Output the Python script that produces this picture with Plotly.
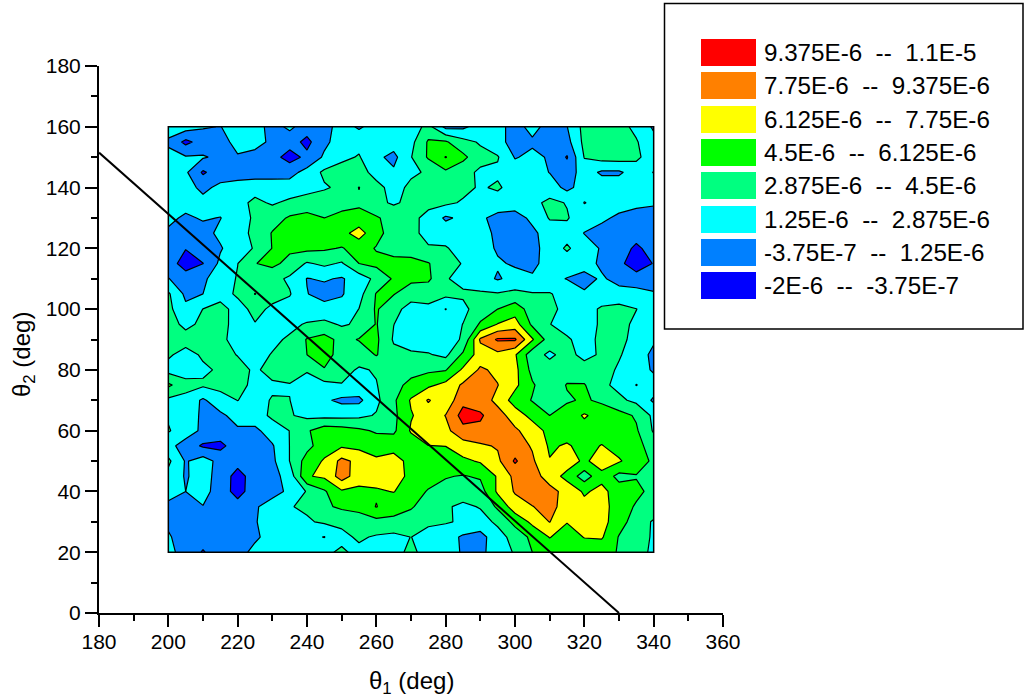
import plotly.graph_objects as go

theta1 = list(range(200, 345, 5))
theta2 = list(range(20, 165, 5))

# values in units of 1E-6, one list per theta2 row
z_160 = [2.0,2.0,1.4,1.2,2.0,2.0,0.6,1.6,0.4,0.6,2.0,1.0,2.0,2.0,2.0,3.4,0.8,0.9,2.0,1.8,0.6,1.8,0.6,1.2,3.4,3.7,3.4,2.5,1.0]
z_155 = [1.0,-0.8,0.3,0.6,1.8,2.0,0.8,0.3,-0.8,0.9,2.0,2.4,1.3,2.0,2.4,4.7,4.7,3.4,2.7,1.8,0.6,1.0,0.5,0.7,3.3,3.8,3.6,3.0,1.8]
z_150 = [1.7,1.4,1.4,0.9,1.1,0.5,0.2,-1.0,0.0,1.5,2.5,3.0,1.6,0.8,2.8,4.7,6.2,4.9,3.4,3.0,1.15,1.6,1.1,-0.5,2.95,3.5,3.6,3.2,2.0]
z_145 = [2.0,1.5,-0.6,0.5,0.4,0.4,0.4,0.7,1.8,3.2,3.6,3.3,2.5,1.5,2.7,3.0,4.2,3.4,2.6,2.6,2.0,2.0,1.2,0.4,2.0,1.0,1.0,2.0,1.2]
z_140 = [2.0,1.8,0.9,1.6,2.0,2.3,2.3,2.0,2.3,2.7,3.2,4.55,3.2,2.5,3.1,3.3,3.5,3.3,2.7,3.1,2.2,2.1,2.1,0.8,2.0,2.2,2.2,2.1,2.0]
z_135 = [2.0,1.8,1.7,2.0,2.4,3.2,2.7,3.2,3.6,3.8,4.0,4.2,3.2,2.7,3.2,3.3,3.2,2.7,2.2,2.1,2.0,2.5,3.2,2.8,1.2,1.7,2.0,1.7,1.4]
z_130 = [1.6,1.0,1.4,1.2,2.2,3.1,3.8,4.7,5.0,4.5,4.9,5.1,4.7,3.8,3.3,2.4,1.0,1.6,1.5,0.8,0.6,1.6,3.0,3.0,2.0,1.6,0.9,0.5,0.7]
z_125 = [1.0,0.4,0.7,1.6,2.2,3.3,4.6,5.3,5.5,5.3,5.6,6.8,5.0,3.8,3.2,2.5,2.2,2.0,1.7,1.0,0.4,0.9,2.0,2.3,1.2,0.6,0.3,0.1,0.3]
z_120 = [0.6,-0.3,0.3,1.1,2.2,3.0,4.55,4.8,4.9,4.7,4.4,5.1,4.4,3.9,3.6,3.0,3.0,2.3,1.8,1.1,0.5,0.7,2.0,3.1,2.0,1.1,0.2,-0.6,0.1]
z_115 = [0.5,-1.2,-0.4,1.6,2.85,4.45,4.9,4.0,2.7,3.2,2.7,4.5,4.9,5.0,5.1,4.6,3.4,2.8,1.9,1.4,1.1,0.8,2.0,2.0,2.0,0.9,0.0,-1.2,-0.3]
z_110 = [1.3,0.5,1.0,2.0,3.0,3.5,3.4,2.6,1.2,1.4,1.1,2.0,3.3,4.7,5.0,4.8,3.0,2.4,1.9,1.1,1.7,1.5,1.6,1.2,0.6,1.5,0.6,0.3,0.5]
z_105 = [3.1,0.9,1.25,2.3,3.1,4.55,3.4,3.0,1.3,0.7,1.1,2.3,4.6,4.6,3.3,3.4,3.3,3.1,3.1,3.0,3.3,3.0,3.0,2.2,1.5,1.9,2.0,1.9,1.4]
z_100 = [3.3,1.6,2.9,3.4,2.3,3.3,2.6,2.2,1.4,1.8,1.9,2.9,4.7,3.2,2.5,2.6,1.2,2.5,3.6,4.5,5.4,3.7,3.2,2.5,2.2,3.1,3.3,2.9,2.2]
z_095 = [3.5,2.5,3.2,3.3,2.4,2.8,2.2,2.3,3.1,3.3,2.7,3.1,4.6,2.9,2.0,1.8,2.2,2.9,4.7,6.2,6.8,4.2,2.9,2.5,2.2,3.1,3.3,2.6,2.0]
z_090 = [3.4,3.5,3.4,3.1,2.5,2.2,2.4,3.2,4.6,5.1,4.0,4.6,4.8,2.7,2.2,2.0,2.4,3.0,8.0,9.6,9.6,6.3,3.7,3.0,2.5,3.1,3.2,2.5,1.5]
z_085 = [3.1,2.3,3.1,3.5,2.8,2.1,3.0,3.6,4.5,5.1,3.9,3.6,4.6,3.3,3.1,3.0,2.5,4.8,6.9,7.3,6.3,3.5,2.6,3.4,2.4,3.1,3.0,2.2,0.8]
z_080 = [2.3,2.0,2.6,3.1,3.5,2.6,3.5,3.5,3.0,4.4,3.4,2.7,3.0,3.6,3.9,4.2,4.4,6.4,8.0,7.4,6.6,4.0,3.5,3.7,3.6,3.4,2.7,2.2,1.0]
z_075 = [4.8,3.5,3.1,3.3,3.6,2.3,2.6,2.8,2.3,2.4,2.8,2.3,2.8,3.9,5.0,5.8,6.6,8.0,8.5,7.8,6.5,4.7,3.4,4.6,4.6,3.2,2.5,1.2,2.1]
z_070 = [2.5,2.3,1.0,2.3,2.9,2.3,3.0,2.9,2.0,1.5,0.9,0.9,2.5,4.2,6.3,7.9,6.7,8.9,8.6,7.3,5.4,4.4,3.5,4.3,4.7,4.2,3.2,2.5,1.0]
z_065 = [2.7,2.0,1.0,0.9,1.9,2.1,3.2,3.0,2.5,2.4,2.4,2.5,3.0,4.1,6.0,6.9,7.8,10.0,9.6,8.4,7.0,5.6,4.5,5.3,6.3,5.5,5.1,4.3,2.5]
z_060 = [3.0,2.1,0.9,0.6,1.0,0.9,2.0,2.9,4.3,5.4,5.2,4.8,4.3,4.2,6.3,7.0,7.3,8.9,9.0,8.5,8.0,7.0,5.6,5.4,5.5,5.3,5.0,4.7,2.7]
z_055 = [1.8,0.5,-0.6,-0.8,0.5,0.8,1.1,2.9,4.0,5.4,5.9,5.7,5.4,5.5,5.2,6.1,6.15,7.0,7.5,7.9,8.5,7.6,5.9,6.3,5.6,6.2,5.5,5.0,3.8]
z_050 = [3.2,1.1,2.0,0.7,0.2,0.3,0.9,2.9,5.2,6.3,8.2,7.3,6.4,6.8,5.6,5.3,5.4,5.8,6.3,7.4,9.6,8.0,6.2,7.0,5.8,7.0,6.3,5.3,4.2]
z_045 = [2.4,1.1,1.9,0.6,-1.0,0.4,0.7,1.9,6.0,6.4,8.5,6.9,6.9,7.2,5.5,5.0,4.6,4.4,4.7,6.3,8.2,8.5,7.0,5.6,3.7,5.6,4.0,4.4,4.0]
z_040 = [1.8,1.25,1.8,0.5,-1.0,0.5,0.8,1.5,3.0,4.3,5.9,5.7,5.9,6.2,5.1,4.4,4.0,3.8,3.8,6.4,7.9,8.6,8.3,7.2,5.9,6.6,5.3,4.9,4.0]
z_035 = [0.9,0.6,1.2,1.2,0.3,1.1,1.8,2.8,3.1,4.2,4.8,5.0,6.2,5.0,4.7,3.6,3.1,2.5,3.0,4.8,7.0,7.7,8.3,7.0,6.6,6.7,5.4,4.3,3.8]
z_030 = [1.0,0.5,0.4,0.4,0.6,1.2,1.6,2.0,2.7,3.1,3.2,3.7,4.0,4.2,3.6,3.2,3.0,2.7,2.2,3.2,5.0,6.5,7.8,6.2,6.9,6.7,5.2,3.7,2.7]
z_025 = [1.4,0.6,0.2,0.4,0.7,1.1,1.6,1.9,1.6,1.2,2.5,3.1,2.7,2.4,2.9,2.2,2.0,1.0,0.7,2.2,3.5,4.9,6.2,5.3,6.2,6.3,4.4,3.5,2.7]
z_020 = [1.7,0.6,-0.5,0.5,0.9,1.5,2.0,2.2,2.3,2.6,3.1,2.5,2.2,2.4,3.2,2.3,1.9,1.1,0.8,2.2,3.0,4.5,5.1,5.2,5.0,5.0,4.4,3.4,2.6]

z_rows = [z_020,z_025,z_030,z_035,z_040,z_045,z_050,z_055,z_060,z_065,z_070,z_075,z_080,z_085,z_090,
          z_095,z_100,z_105,z_110,z_115,z_120,z_125,z_130,z_135,z_140,z_145,z_150,z_155,z_160]

line_x = [180, 330]
line_y = [151.5, 0]

band_colors = ["#0000FF", "#0080FF", "#00FFFF", "#00FF80", "#00FF00", "#FFFF00", "#FF8000", "#FF0000"]
band_labels = [
    "-2E-6\u00a0\u00a0--\u00a0\u00a0-3.75E-7",
    "-3.75E-7\u00a0\u00a0--\u00a0\u00a01.25E-6",
    "1.25E-6\u00a0\u00a0--\u00a0\u00a02.875E-6",
    "2.875E-6\u00a0\u00a0--\u00a0\u00a04.5E-6",
    "4.5E-6\u00a0\u00a0--\u00a0\u00a06.125E-6",
    "6.125E-6\u00a0\u00a0--\u00a0\u00a07.75E-6",
    "7.75E-6\u00a0\u00a0--\u00a0\u00a09.375E-6",
    "9.375E-6\u00a0\u00a0--\u00a0\u00a01.1E-5",
]
z_min, z_max, z_step = -2.0, 11.0, 1.625

FONT = "Liberation Sans, Arial, sans-serif"
W, H = 1024, 700
L, T, PW, PH = 99, 66, 624, 547

def px(x):
    return (x - L) / PW

def py(y):
    return 1 - (y - T) / PH

n = len(band_colors)
scale = []
for i, c in enumerate(band_colors):
    scale += [[i / n, c], [(i + 1) / n, c]]

fig = go.Figure()
fig.add_trace(go.Contour(
    x=theta1, y=theta2, z=z_rows,
    zmin=z_min, zmax=z_max, autocontour=False,
    contours=dict(start=z_min, end=z_max, size=z_step, coloring="fill", showlines=True),
    line=dict(color="black", width=1.2, smoothing=0),
    colorscale=scale, showscale=False, hoverinfo="skip",
))
fig.add_trace(go.Scatter(x=line_x, y=line_y, mode="lines", cliponaxis=False,
                         line=dict(color="black", width=2), hoverinfo="skip", showlegend=False))

shapes = [dict(type="rect", xref="x", yref="y", x0=min(theta1), x1=max(theta1), y0=min(theta2), y1=max(theta2),
               line=dict(color="black", width=1.5), layer="above"),
          dict(type="rect", xref="paper", yref="paper", x0=px(664.5), x1=px(1023), y0=py(329), y1=py(3.5),
               line=dict(color="black", width=1.5), fillcolor="white", layer="above")]
annotations = []
swatch_tops = [272, 239, 206, 172, 139, 106, 72, 39]
for c, lab, top in zip(band_colors, band_labels, swatch_tops):
    shapes.append(dict(type="rect", xref="paper", yref="paper", x0=px(701), x1=px(756), y0=py(top + 27), y1=py(top),
                       line=dict(width=0), fillcolor=c, layer="above"))
    annotations.append(dict(xref="paper", yref="paper", x=px(762), y=py(top + 13.5), xanchor="left", yanchor="middle",
                            text=lab, showarrow=False, font=dict(family=FONT, size=24.2, color="black")))

annotations.append(dict(xref="paper", yref="paper", x=px(411), y=py(682), xanchor="center", yanchor="middle",
                        text="\u03b8<sub>1</sub> (deg)", showarrow=False, font=dict(family=FONT, size=24, color="black")))
annotations.append(dict(xref="paper", yref="paper", x=px(23), y=py(355), xanchor="center", yanchor="middle", textangle=-90,
                        text="\u03b8<sub>2</sub> (deg)", showarrow=False, font=dict(family=FONT, size=24, color="black")))

axis_common = dict(showgrid=False, zeroline=False, showline=True, linecolor="black", linewidth=2,
                   ticks="outside", ticklen=12, tickwidth=2, tickcolor="black",
                   tickfont=dict(family=FONT, size=21, color="black"),
                   minor=dict(ticks="outside", ticklen=6, tickwidth=2, tickcolor="black", dtick=10, showgrid=False))

fig.update_layout(
    width=W, height=H, autosize=False,
    margin=dict(l=L, t=T, r=W - L - PW, b=H - T - PH, pad=0),
    paper_bgcolor="white", plot_bgcolor="white", showlegend=False,
    xaxis=dict(range=[180, 360], dtick=20, tick0=180, anchor="y", ticklabelstandoff=-3, **axis_common),
    yaxis=dict(range=[0, 180], dtick=20, tick0=0, anchor="x", **axis_common),
    shapes=shapes, annotations=annotations,
)

fig.write_html("out.html", config=dict(displayModeBar=False),
               post_script="document.body.style.margin='0';document.body.style.overflow='hidden';")
